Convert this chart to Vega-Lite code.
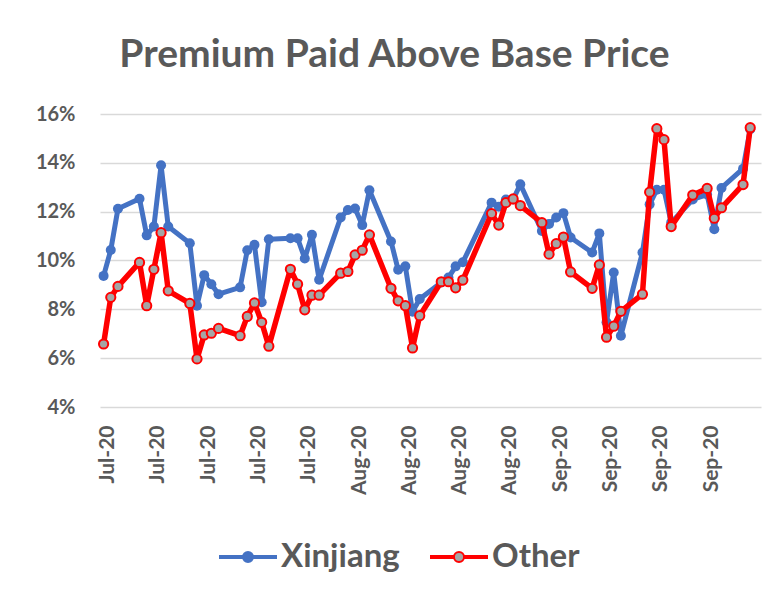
{
  "$schema": "https://vega.github.io/schema/vega-lite/v6.json",
  "width": 661,
  "height": 293,
  "autosize": {"type": "none"},
  "padding": {"left": 100, "top": 114, "right": 14, "bottom": 189},
  "background": "white",
  "title": {
    "text": "Premium Paid Above Base Price",
    "font": "Lato",
    "fontSize": 39,
    "fontWeight": "bold",
    "color": "#595959",
    "anchor": "middle",
    "dx": -36,
    "dy": 44,
    "baseline": "alphabetic",
    "offset": 42
  },
  "config": {"view": {"stroke": null}},
  "datasets": {
    "premium": [
      {"date": "2020-07-01", "series": "Xinjiang", "value": 0.0937},
      {"date": "2020-07-02", "series": "Xinjiang", "value": 0.1043},
      {"date": "2020-07-03", "series": "Xinjiang", "value": 0.1212},
      {"date": "2020-07-06", "series": "Xinjiang", "value": 0.1253},
      {"date": "2020-07-07", "series": "Xinjiang", "value": 0.1103},
      {"date": "2020-07-08", "series": "Xinjiang", "value": 0.1139},
      {"date": "2020-07-09", "series": "Xinjiang", "value": 0.1390},
      {"date": "2020-07-10", "series": "Xinjiang", "value": 0.1139},
      {"date": "2020-07-13", "series": "Xinjiang", "value": 0.1071},
      {"date": "2020-07-14", "series": "Xinjiang", "value": 0.0815},
      {"date": "2020-07-15", "series": "Xinjiang", "value": 0.0940},
      {"date": "2020-07-16", "series": "Xinjiang", "value": 0.0903},
      {"date": "2020-07-17", "series": "Xinjiang", "value": 0.0862},
      {"date": "2020-07-20", "series": "Xinjiang", "value": 0.0890},
      {"date": "2020-07-21", "series": "Xinjiang", "value": 0.1042},
      {"date": "2020-07-22", "series": "Xinjiang", "value": 0.1064},
      {"date": "2020-07-23", "series": "Xinjiang", "value": 0.0829},
      {"date": "2020-07-24", "series": "Xinjiang", "value": 0.1087},
      {"date": "2020-07-27", "series": "Xinjiang", "value": 0.1091},
      {"date": "2020-07-28", "series": "Xinjiang", "value": 0.1091},
      {"date": "2020-07-29", "series": "Xinjiang", "value": 0.1008},
      {"date": "2020-07-30", "series": "Xinjiang", "value": 0.1105},
      {"date": "2020-07-31", "series": "Xinjiang", "value": 0.0921},
      {"date": "2020-08-03", "series": "Xinjiang", "value": 0.1176},
      {"date": "2020-08-04", "series": "Xinjiang", "value": 0.1207},
      {"date": "2020-08-05", "series": "Xinjiang", "value": 0.1213},
      {"date": "2020-08-06", "series": "Xinjiang", "value": 0.1145},
      {"date": "2020-08-07", "series": "Xinjiang", "value": 0.1288},
      {"date": "2020-08-10", "series": "Xinjiang", "value": 0.1078},
      {"date": "2020-08-11", "series": "Xinjiang", "value": 0.0962},
      {"date": "2020-08-12", "series": "Xinjiang", "value": 0.0976},
      {"date": "2020-08-13", "series": "Xinjiang", "value": 0.0790},
      {"date": "2020-08-14", "series": "Xinjiang", "value": 0.0842},
      {"date": "2020-08-17", "series": "Xinjiang", "value": 0.0910},
      {"date": "2020-08-18", "series": "Xinjiang", "value": 0.0930},
      {"date": "2020-08-19", "series": "Xinjiang", "value": 0.0976},
      {"date": "2020-08-20", "series": "Xinjiang", "value": 0.0993},
      {"date": "2020-08-24", "series": "Xinjiang", "value": 0.1237},
      {"date": "2020-08-25", "series": "Xinjiang", "value": 0.1220},
      {"date": "2020-08-26", "series": "Xinjiang", "value": 0.1250},
      {"date": "2020-08-27", "series": "Xinjiang", "value": 0.1250},
      {"date": "2020-08-28", "series": "Xinjiang", "value": 0.1312},
      {"date": "2020-08-31", "series": "Xinjiang", "value": 0.1121},
      {"date": "2020-09-01", "series": "Xinjiang", "value": 0.1150},
      {"date": "2020-09-02", "series": "Xinjiang", "value": 0.1176},
      {"date": "2020-09-03", "series": "Xinjiang", "value": 0.1194},
      {"date": "2020-09-04", "series": "Xinjiang", "value": 0.1094},
      {"date": "2020-09-07", "series": "Xinjiang", "value": 0.1033},
      {"date": "2020-09-08", "series": "Xinjiang", "value": 0.1111},
      {"date": "2020-09-09", "series": "Xinjiang", "value": 0.0747},
      {"date": "2020-09-10", "series": "Xinjiang", "value": 0.0951},
      {"date": "2020-09-11", "series": "Xinjiang", "value": 0.0692},
      {"date": "2020-09-14", "series": "Xinjiang", "value": 0.1033},
      {"date": "2020-09-15", "series": "Xinjiang", "value": 0.1230},
      {"date": "2020-09-16", "series": "Xinjiang", "value": 0.1290},
      {"date": "2020-09-17", "series": "Xinjiang", "value": 0.1290},
      {"date": "2020-09-18", "series": "Xinjiang", "value": 0.1155},
      {"date": "2020-09-21", "series": "Xinjiang", "value": 0.1250},
      {"date": "2020-09-23", "series": "Xinjiang", "value": 0.1270},
      {"date": "2020-09-24", "series": "Xinjiang", "value": 0.1128},
      {"date": "2020-09-25", "series": "Xinjiang", "value": 0.1297},
      {"date": "2020-09-28", "series": "Xinjiang", "value": 0.1376},
      {"date": "2020-09-29", "series": "Xinjiang", "value": 0.1538},
      {"date": "2020-07-01", "series": "Other", "value": 0.0658},
      {"date": "2020-07-02", "series": "Other", "value": 0.0849},
      {"date": "2020-07-03", "series": "Other", "value": 0.0894},
      {"date": "2020-07-06", "series": "Other", "value": 0.0992},
      {"date": "2020-07-07", "series": "Other", "value": 0.0815},
      {"date": "2020-07-08", "series": "Other", "value": 0.0964},
      {"date": "2020-07-09", "series": "Other", "value": 0.1114},
      {"date": "2020-07-10", "series": "Other", "value": 0.0876},
      {"date": "2020-07-13", "series": "Other", "value": 0.0824},
      {"date": "2020-07-14", "series": "Other", "value": 0.0597},
      {"date": "2020-07-15", "series": "Other", "value": 0.0695},
      {"date": "2020-07-16", "series": "Other", "value": 0.0702},
      {"date": "2020-07-17", "series": "Other", "value": 0.0722},
      {"date": "2020-07-20", "series": "Other", "value": 0.0692},
      {"date": "2020-07-21", "series": "Other", "value": 0.0771},
      {"date": "2020-07-22", "series": "Other", "value": 0.0826},
      {"date": "2020-07-23", "series": "Other", "value": 0.0747},
      {"date": "2020-07-24", "series": "Other", "value": 0.0649},
      {"date": "2020-07-27", "series": "Other", "value": 0.0964},
      {"date": "2020-07-28", "series": "Other", "value": 0.0903},
      {"date": "2020-07-29", "series": "Other", "value": 0.0798},
      {"date": "2020-07-30", "series": "Other", "value": 0.0858},
      {"date": "2020-07-31", "series": "Other", "value": 0.0858},
      {"date": "2020-08-03", "series": "Other", "value": 0.0948},
      {"date": "2020-08-04", "series": "Other", "value": 0.0955},
      {"date": "2020-08-05", "series": "Other", "value": 0.1023},
      {"date": "2020-08-06", "series": "Other", "value": 0.1042},
      {"date": "2020-08-07", "series": "Other", "value": 0.1105},
      {"date": "2020-08-10", "series": "Other", "value": 0.0886},
      {"date": "2020-08-11", "series": "Other", "value": 0.0835},
      {"date": "2020-08-12", "series": "Other", "value": 0.0815},
      {"date": "2020-08-13", "series": "Other", "value": 0.0642},
      {"date": "2020-08-14", "series": "Other", "value": 0.0774},
      {"date": "2020-08-17", "series": "Other", "value": 0.0913},
      {"date": "2020-08-18", "series": "Other", "value": 0.0913},
      {"date": "2020-08-19", "series": "Other", "value": 0.0888},
      {"date": "2020-08-20", "series": "Other", "value": 0.0920},
      {"date": "2020-08-24", "series": "Other", "value": 0.1192},
      {"date": "2020-08-25", "series": "Other", "value": 0.1145},
      {"date": "2020-08-26", "series": "Other", "value": 0.1237},
      {"date": "2020-08-27", "series": "Other", "value": 0.1252},
      {"date": "2020-08-28", "series": "Other", "value": 0.1225},
      {"date": "2020-08-31", "series": "Other", "value": 0.1155},
      {"date": "2020-09-01", "series": "Other", "value": 0.1026},
      {"date": "2020-09-02", "series": "Other", "value": 0.1069},
      {"date": "2020-09-03", "series": "Other", "value": 0.1096},
      {"date": "2020-09-04", "series": "Other", "value": 0.0953},
      {"date": "2020-09-07", "series": "Other", "value": 0.0886},
      {"date": "2020-09-08", "series": "Other", "value": 0.0982},
      {"date": "2020-09-09", "series": "Other", "value": 0.0686},
      {"date": "2020-09-10", "series": "Other", "value": 0.0731},
      {"date": "2020-09-11", "series": "Other", "value": 0.0792},
      {"date": "2020-09-14", "series": "Other", "value": 0.0862},
      {"date": "2020-09-15", "series": "Other", "value": 0.1280},
      {"date": "2020-09-16", "series": "Other", "value": 0.1540},
      {"date": "2020-09-17", "series": "Other", "value": 0.1495},
      {"date": "2020-09-18", "series": "Other", "value": 0.1139},
      {"date": "2020-09-21", "series": "Other", "value": 0.1268},
      {"date": "2020-09-23", "series": "Other", "value": 0.1295},
      {"date": "2020-09-24", "series": "Other", "value": 0.1173},
      {"date": "2020-09-25", "series": "Other", "value": 0.1216},
      {"date": "2020-09-28", "series": "Other", "value": 0.1311},
      {"date": "2020-09-29", "series": "Other", "value": 0.1544}
    ]
  },
  "data": {"name": "premium"},
  "encoding": {
    "x": {
      "field": "date",
      "type": "temporal",
      "scale": {
        "type": "utc",
        "domain": [
          {"year": 2020, "month": 6, "date": 30, "hours": 12, "utc": true},
          {"year": 2020, "month": 9, "date": 30, "hours": 12, "utc": true}
        ]
      },
      "axis": {
        "title": null,
        "values": [
          {"year": 2020, "month": 7, "date": 1, "utc": true},
          {"year": 2020, "month": 7, "date": 8, "utc": true},
          {"year": 2020, "month": 7, "date": 15, "utc": true},
          {"year": 2020, "month": 7, "date": 22, "utc": true},
          {"year": 2020, "month": 7, "date": 29, "utc": true},
          {"year": 2020, "month": 8, "date": 5, "utc": true},
          {"year": 2020, "month": 8, "date": 12, "utc": true},
          {"year": 2020, "month": 8, "date": 19, "utc": true},
          {"year": 2020, "month": 8, "date": 26, "utc": true},
          {"year": 2020, "month": 9, "date": 2, "utc": true},
          {"year": 2020, "month": 9, "date": 9, "utc": true},
          {"year": 2020, "month": 9, "date": 16, "utc": true},
          {"year": 2020, "month": 9, "date": 23, "utc": true}
        ],
        "labelExpr": "utcFormat(datum.value, '%b-%y')",
        "labelAngle": -90,
        "labelFont": "Lato",
        "labelFontSize": 21,
        "labelFontWeight": "bold",
        "labelColor": "#595959",
        "labelPadding": 18,
        "labelOffset": 4,
        "labelOverlap": false,
        "labelFlush": false,
        "grid": false,
        "domain": false,
        "ticks": false
      }
    },
    "y": {
      "field": "value",
      "type": "quantitative",
      "scale": {"domain": [0.04, 0.16], "nice": false, "zero": false},
      "axis": {
        "title": null,
        "values": [0.04, 0.06, 0.08, 0.10, 0.12, 0.14, 0.16],
        "format": ".0%",
        "labelFont": "Lato",
        "labelFontSize": 20,
        "labelFontWeight": "bold",
        "labelColor": "#595959",
        "labelPadding": 25,
        "domain": false,
        "ticks": false,
        "grid": true,
        "gridColor": "#D9D9D9",
        "gridWidth": 1.5
      }
    }
  },
  "layer": [
    {
      "transform": [{"filter": "datum.series === 'Xinjiang'"}],
      "mark": {"type": "line", "strokeWidth": 5, "strokeJoin": "round", "strokeCap": "round"},
      "encoding": {
        "color": {
          "field": "series",
          "type": "nominal",
          "scale": {"domain": ["Xinjiang", "Other"], "range": ["#4472C4", "#FF0000"]},
          "legend": {
            "title": null,
            "orient": "none",
            "direction": "horizontal",
            "legendX": 119,
            "legendY": 414,
            "labelFont": "Lato",
            "labelFontSize": 33,
            "labelFontWeight": "bold",
            "labelColor": "#595959",
            "labelOffset": 4,
            "columnPadding": 27,
            "symbolSize": 3136,
            "symbolStrokeWidth": 2,
            "symbolType": "M-1,-0.035H-0.18V0.035H-1Z M0.18,-0.035H1V0.035H0.18Z M0.18,0A0.18,0.18,0,1,1,-0.18,0A0.18,0.18,0,1,1,0.18,0Z",
            "encode": {
              "symbols": {
                "update": {
                  "fill": [
                    {"test": "datum.value === 'Other'", "value": "#A5A5A5"},
                    {"value": "#4472C4"}
                  ],
                  "fillOpacity": {"value": 1}
                }
              }
            }
          }
        }
      }
    },
    {
      "transform": [{"filter": "datum.series === 'Xinjiang'"}],
      "mark": {"type": "circle", "fill": "#4472C4", "size": 100, "opacity": 1}
    },
    {
      "transform": [{"filter": "datum.series === 'Other'"}],
      "mark": {"type": "line", "strokeWidth": 5.5, "strokeJoin": "round", "strokeCap": "round"},
      "encoding": {
        "color": {
          "field": "series",
          "type": "nominal",
          "scale": {"domain": ["Xinjiang", "Other"], "range": ["#4472C4", "#FF0000"]}
        }
      }
    },
    {
      "transform": [{"filter": "datum.series === 'Other'"}],
      "mark": {"type": "circle", "fill": "#A5A5A5", "stroke": "#FF0000", "strokeWidth": 2, "size": 85, "opacity": 1}
    }
  ]
}
